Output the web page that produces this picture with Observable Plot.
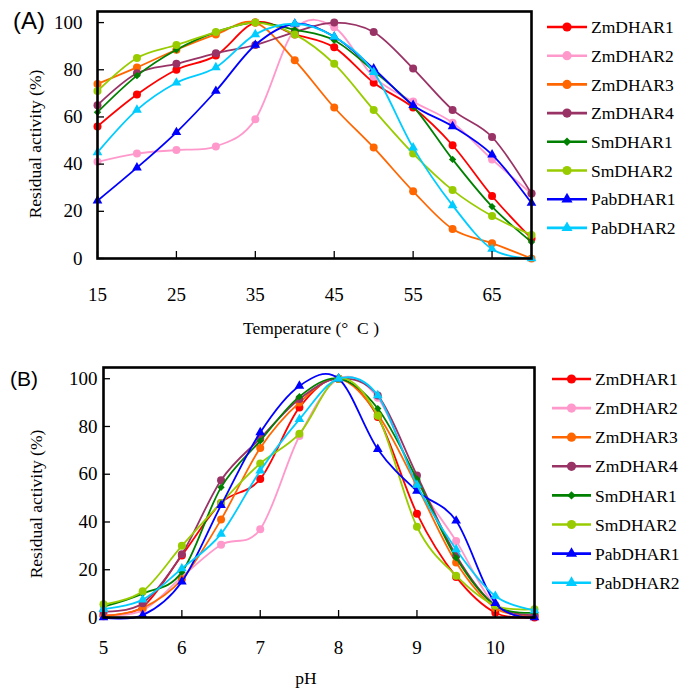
<!DOCTYPE html>
<html>
<head>
<meta charset="utf-8">
<script src="https://cdn.jsdelivr.net/npm/d3@7"></script>
<script src="https://cdn.jsdelivr.net/npm/@observablehq/plot@0.6"></script>
<style>
  body { margin: 0; background: #fff; }
  #root { position: relative; width: 679px; height: 692px; overflow: hidden; background: #fff; }
  #root > svg { position: absolute; left: 0; overflow: visible; }
</style>
</head>
<body>
<div id="root"></div>
<script>
// ---------- data ----------
const seriesNames = ["ZmDHAR1", "ZmDHAR2", "ZmDHAR3", "ZmDHAR4", "SmDHAR1", "SmDHAR2", "PabDHAR1", "PabDHAR2"];
const seriesColors = ["#ff0000", "#ff99cc", "#ff6600", "#993366", "#008000", "#99cc00", "#0000ff", "#00ccff"];
const seriesSymbols = ["circle", "circle", "circle", "circle", "diamond2", "circle", "triangle", "triangle"];

// Panel A: temperature (°C)
const temperature = [15, 20, 25, 30, 35, 40, 45, 50, 55, 60, 65, 70];
const tempZmDHAR1 = [56, 69.5, 80, 86, 100, 95, 89.5, 74.5, 64, 48, 26.5, 8.5];
const tempZmDHAR2 = [41, 44.5, 46, 47.5, 59, 97, 98, 77, 66.5, 57.5, 42, 27.5];
const tempZmDHAR3 = [74, 81, 88.5, 95, 100, 84, 64, 47, 28.5, 12.5, 6.5, 0];
const tempZmDHAR4 = [65, 78.5, 82.5, 87, 90.5, 96, 100, 96, 80.5, 63, 51.5, 27.5];
const tempSmDHAR1 = [62, 77.5, 88.5, 96, 100, 97, 92.5, 79.5, 64.5, 42, 22, 7];
const tempSmDHAR2 = [71, 85, 90.5, 96, 100, 95, 82.5, 63, 44.5, 29, 18, 10];
const tempPabDHAR1 = [24.5, 38.5, 53.5, 71, 90.5, 99.5, 94, 80.5, 65, 56, 44, 23.5];
const tempPabDHAR2 = [45, 63, 74.5, 81, 95, 99.5, 94, 79, 47, 22.5, 4, 0];

// Panel B: pH
const pH = [5, 5.5, 6, 6.5, 7, 7.5, 8, 8.5, 9, 9.5, 10, 10.5];
const phZmDHAR1 = [1, 4.5, 26, 48, 58, 88, 100, 84, 43.5, 17, 2, 0];
const phZmDHAR2 = [1, 3, 17, 30.5, 37, 76, 100, 92, 57, 32, 5, 1];
const phZmDHAR3 = [0.5, 4, 16, 41, 71, 90, 100, 85, 55, 23, 4, 0.5];
const phZmDHAR4 = [2.5, 6, 26.5, 57.5, 75, 91.5, 100, 93, 59.5, 26, 5, 1];
const phSmDHAR1 = [4.5, 10, 19, 54.5, 74, 92.5, 100, 87.5, 58, 25, 5, 2];
const phSmDHAR2 = [5.5, 11, 30, 48, 64.5, 77, 100, 84.5, 38, 17.5, 5, 3.5];
const phPabDHAR1 = [0, 1, 15, 47, 77.5, 97, 100, 70.5, 53, 40.5, 6, 0];
const phPabDHAR2 = [3.5, 7.5, 20.5, 35, 61.5, 83, 100, 93, 55.5, 28.5, 9, 3];

const tempTicks = [15, 25, 35, 45, 55, 65];
const pHTicks = [5, 6, 7, 8, 9, 10];
const activityTicks = [0, 20, 40, 60, 80, 100];

const tempSeries = [tempZmDHAR1, tempZmDHAR2, tempZmDHAR3, tempZmDHAR4, tempSmDHAR1, tempSmDHAR2, tempPabDHAR1, tempPabDHAR2];
const phSeries = [phZmDHAR1, phZmDHAR2, phZmDHAR3, phZmDHAR4, phSmDHAR1, phSmDHAR2, phPabDHAR1, phPabDHAR2];

// ---------- drawing ----------
const serif = "'Liberation Serif', 'Times New Roman', 'DejaVu Serif', serif";
const sans = "'Liberation Sans', Arial, sans-serif";
const symbolR = {circle: 4, diamond2: 3.3, triangle: 3.6};

function panel(cfg) {
  const frameH = cfg.height - cfg.mT - cfg.mB;
  const frameW = 679 - cfg.mL - cfg.mR;
  const marks = [];
  cfg.series.forEach((vals, i) => {
    const data = cfg.xs.map((x, j) => ({x, y: vals[j], name: seriesNames[i]}));
    marks.push(Plot.line(data, {x: "x", y: "y", stroke: seriesColors[i], strokeWidth: 1.8, curve: "cardinal", tension: 0}));
    marks.push(Plot.dot(data, {x: "x", y: "y", fill: seriesColors[i], stroke: "none",
      symbol: seriesSymbols[i], r: symbolR[seriesSymbols[i]]}));
  });
  // inward ticks
  marks.push(Plot.ruleX(cfg.xTicks, {x: d => d, stroke: "black", strokeWidth: 1.3, insetTop: frameH - 7}));
  marks.push(Plot.ruleY(activityTicks, {y: d => d, stroke: "black", strokeWidth: 1.3, insetRight: frameW - 7}));
  marks.push(Plot.frame({stroke: "black", strokeWidth: 2.6}));
  marks.push(Plot.axisX(cfg.xTicks, {tickSize: 0, tickPadding: cfg.xPad, fontSize: 19, fontFamily: serif}));
  marks.push(Plot.axisY(activityTicks, {tickSize: 0, tickPadding: cfg.yPad, fontSize: 19, fontFamily: serif}));
  const svg = Plot.plot({
    width: 679, height: cfg.height,
    marginLeft: cfg.mL, marginRight: cfg.mR, marginTop: cfg.mT, marginBottom: cfg.mB,
    x: {domain: cfg.xDomain, label: null},
    y: {domain: [0, 104.7], label: null},
    style: {fontFamily: serif, fontSize: "19px", color: "black", background: "transparent", overflow: "visible"},
    marks
  });
  svg.style.top = cfg.top + "px";
  return svg;
}

const root = document.getElementById("root");
root.appendChild(panel({xs: temperature, series: tempSeries, xDomain: [15, 70], xTicks: tempTicks,
  top: 0, height: 346, mL: 97, mR: 148, mT: 11, mB: 88, xPad: 28.5, yPad: 15}));
root.appendChild(panel({xs: pH, series: phSeries, xDomain: [5, 10.5], xTicks: pHTicks,
  top: 356, height: 336, mL: 103, mR: 145, mT: 11, mB: 75, xPad: 22.5, yPad: 6}));

// overlay: panel letters, axis titles, legends
const ov = d3.select(root).append("svg").attr("width", 679).attr("height", 692)
  .style("top", "0px").style("pointer-events", "none");

ov.append("text").attr("x", 13).attr("y", 29).attr("font-family", sans).attr("font-size", 24).text("(A)");
ov.append("text").attr("x", 10).attr("y", 386).attr("font-family", sans).attr("font-size", 21).text("(B)");

ov.append("text").attr("transform", "translate(35,144) rotate(-90)").attr("text-anchor", "middle")
  .attr("dy", "0.35em").attr("font-family", serif).attr("font-size", 17.5).text("Residual activity (%)");
ov.append("text").attr("transform", "translate(36,504) rotate(-90)").attr("text-anchor", "middle")
  .attr("dy", "0.35em").attr("font-family", serif).attr("font-size", 17.5).text("Residual activity (%)");

ov.append("text").attr("x", 243).attr("y", 334).attr("xml:space", "preserve").style("white-space", "pre")
  .attr("font-family", serif).attr("font-size", 17.5).text("Temperature (°  C )");
ov.append("text").attr("x", 306).attr("y", 684).attr("text-anchor", "middle")
  .attr("font-family", serif).attr("font-size", 17.5).text("pH");

function legend(x1, x2, tx, y0, dy) {
  seriesNames.forEach((name, i) => {
    const y = y0 + i * dy;
    const g = ov.append("g");
    g.append("line").attr("x1", x1).attr("x2", x2).attr("y1", y).attr("y2", y)
      .attr("stroke", seriesColors[i]).attr("stroke-width", 2.6);
    const sym = {circle: d3.symbolCircle, diamond2: d3.symbolDiamond2, triangle: d3.symbolTriangle}[seriesSymbols[i]];
    const r = symbolR[seriesSymbols[i]] * 1.15;
    g.append("path").attr("transform", `translate(${(x1 + x2) / 2},${y})`)
      .attr("d", d3.symbol(sym, Math.PI * r * r)()).attr("fill", seriesColors[i]);
    g.append("text").attr("x", tx).attr("y", y).attr("dy", "0.35em")
      .attr("font-family", serif).attr("font-size", 17.5).text(name);
  });
}
legend(547, 587, 591, 27, 28.7);
legend(552, 591, 595, 379, 29.1);
</script>
</body>
</html>
